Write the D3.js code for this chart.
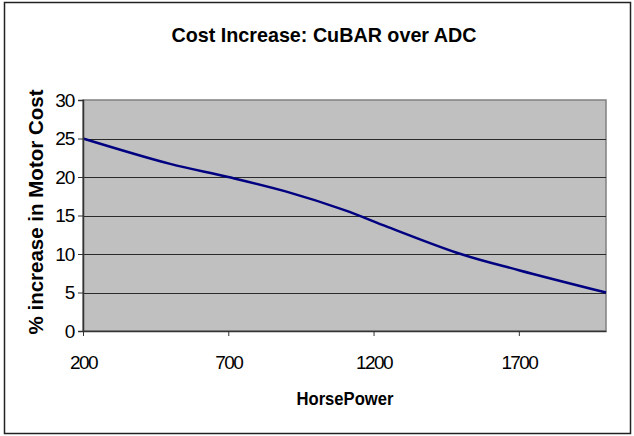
<!DOCTYPE html>
<html>
<head>
<meta charset="utf-8">
<script src="https://cdn.jsdelivr.net/npm/d3@7"></script>
<style>
  html, body { margin: 0; padding: 0; background: #fff; }
  svg { display: block; }
  text { font-family: "Liberation Sans", Arial, sans-serif; fill: #000; }
</style>
</head>
<body>
<svg id="chart" width="634" height="436"></svg>
<script>
// ---- data ----
const horsePower = [200, 500, 700, 900, 1100, 1250, 1500, 1700, 2000];
const costIncrease = [25, 21.7, 20, 18.1, 15.7, 13.5, 10, 7.9, 5];
const xTicks = [200, 700, 1200, 1700];
const yTicks = [0, 5, 10, 15, 20, 25, 30];
const titleText = "Cost Increase: CuBAR over ADC";
const xTitle = "HorsePower";
const yTitle = "% increase in Motor Cost";

// ---- layout ----
const plot = { left: 83, right: 606, top: 100, bottom: 331 };
const FONT = "Liberation Sans, Arial, sans-serif";

const svg = d3.select("#chart");

// outer border
svg.append("rect")
  .attr("x", 4.5).attr("y", 2.5)
  .attr("width", 626).attr("height", 431)
  .attr("fill", "#fff").attr("stroke", "#222").attr("stroke-width", 1.5);

const x = d3.scaleLinear().domain([200, 2000]).range([plot.left, plot.right]);
const y = d3.scaleLinear().domain([0, 30]).range([plot.bottom, plot.top]);

// plot area
svg.append("rect")
  .attr("x", plot.left).attr("y", plot.top)
  .attr("width", plot.right - plot.left).attr("height", plot.bottom - plot.top)
  .attr("fill", "#c0c0c0").attr("stroke", "#808080").attr("stroke-width", 1.5);

// gridlines
svg.append("g")
  .selectAll("line")
  .data(yTicks.filter(d => d > 0 && d < 30))
  .join("line")
  .attr("x1", plot.left).attr("x2", plot.right)
  .attr("y1", d => Math.round(y(d)) + 0.5).attr("y2", d => Math.round(y(d)) + 0.5)
  .attr("stroke", "#2a2a2a").attr("stroke-width", 1);

// line
const line = d3.line()
  .x((d, i) => x(horsePower[i]))
  .y(d => y(d))
  .curve(d3.curveCatmullRom.alpha(0.5));
svg.append("path")
  .datum(costIncrease)
  .attr("d", line)
  .attr("fill", "none")
  .attr("stroke", "#000080")
  .attr("stroke-width", 2.5);

// y axis
const yAxis = d3.axisLeft(y).tickValues(yTicks).tickSize(5).tickPadding(4).tickFormat(d3.format("d"));
const gy = svg.append("g").attr("transform", `translate(${plot.left},0)`).call(yAxis);
gy.select(".domain").attr("stroke", "#333").attr("stroke-width", 1.5);
gy.selectAll(".tick line").attr("stroke", "#333");
gy.selectAll(".tick text")
  .attr("font-size", 19).attr("font-family", FONT)
  .attr("fill", "#000").attr("letter-spacing", -1.2);

// x axis
const xAxis = d3.axisBottom(x).tickValues(xTicks).tickSize(5).tickPadding(20)
  .tickSizeOuter(0).tickFormat(d3.format("d"));
const gx = svg.append("g").attr("transform", `translate(0,${plot.bottom})`).call(xAxis);
gx.select(".domain").attr("stroke", "#333").attr("stroke-width", 1.5);
gx.selectAll(".tick line").attr("stroke", "#333");
gx.selectAll(".tick text")
  .attr("font-size", 19).attr("font-family", FONT)
  .attr("fill", "#000").attr("letter-spacing", -1.6);

// title
svg.append("text")
  .attr("x", 324).attr("y", 42)
  .attr("text-anchor", "middle")
  .attr("font-size", 21).attr("font-weight", "bold")
  .attr("textLength", 305).attr("lengthAdjust", "spacingAndGlyphs")
  .text(titleText);

// x title
svg.append("text")
  .attr("x", 345).attr("y", 405)
  .attr("text-anchor", "middle")
  .attr("font-size", 18).attr("font-weight", "bold")
  .attr("textLength", 97).attr("lengthAdjust", "spacingAndGlyphs")
  .text(xTitle);

// y title
svg.append("text")
  .attr("transform", `translate(43,212) rotate(-90)`)
  .attr("text-anchor", "middle")
  .attr("font-size", 20.5).attr("font-weight", "bold")
  .text(yTitle);
</script>
</body>
</html>
